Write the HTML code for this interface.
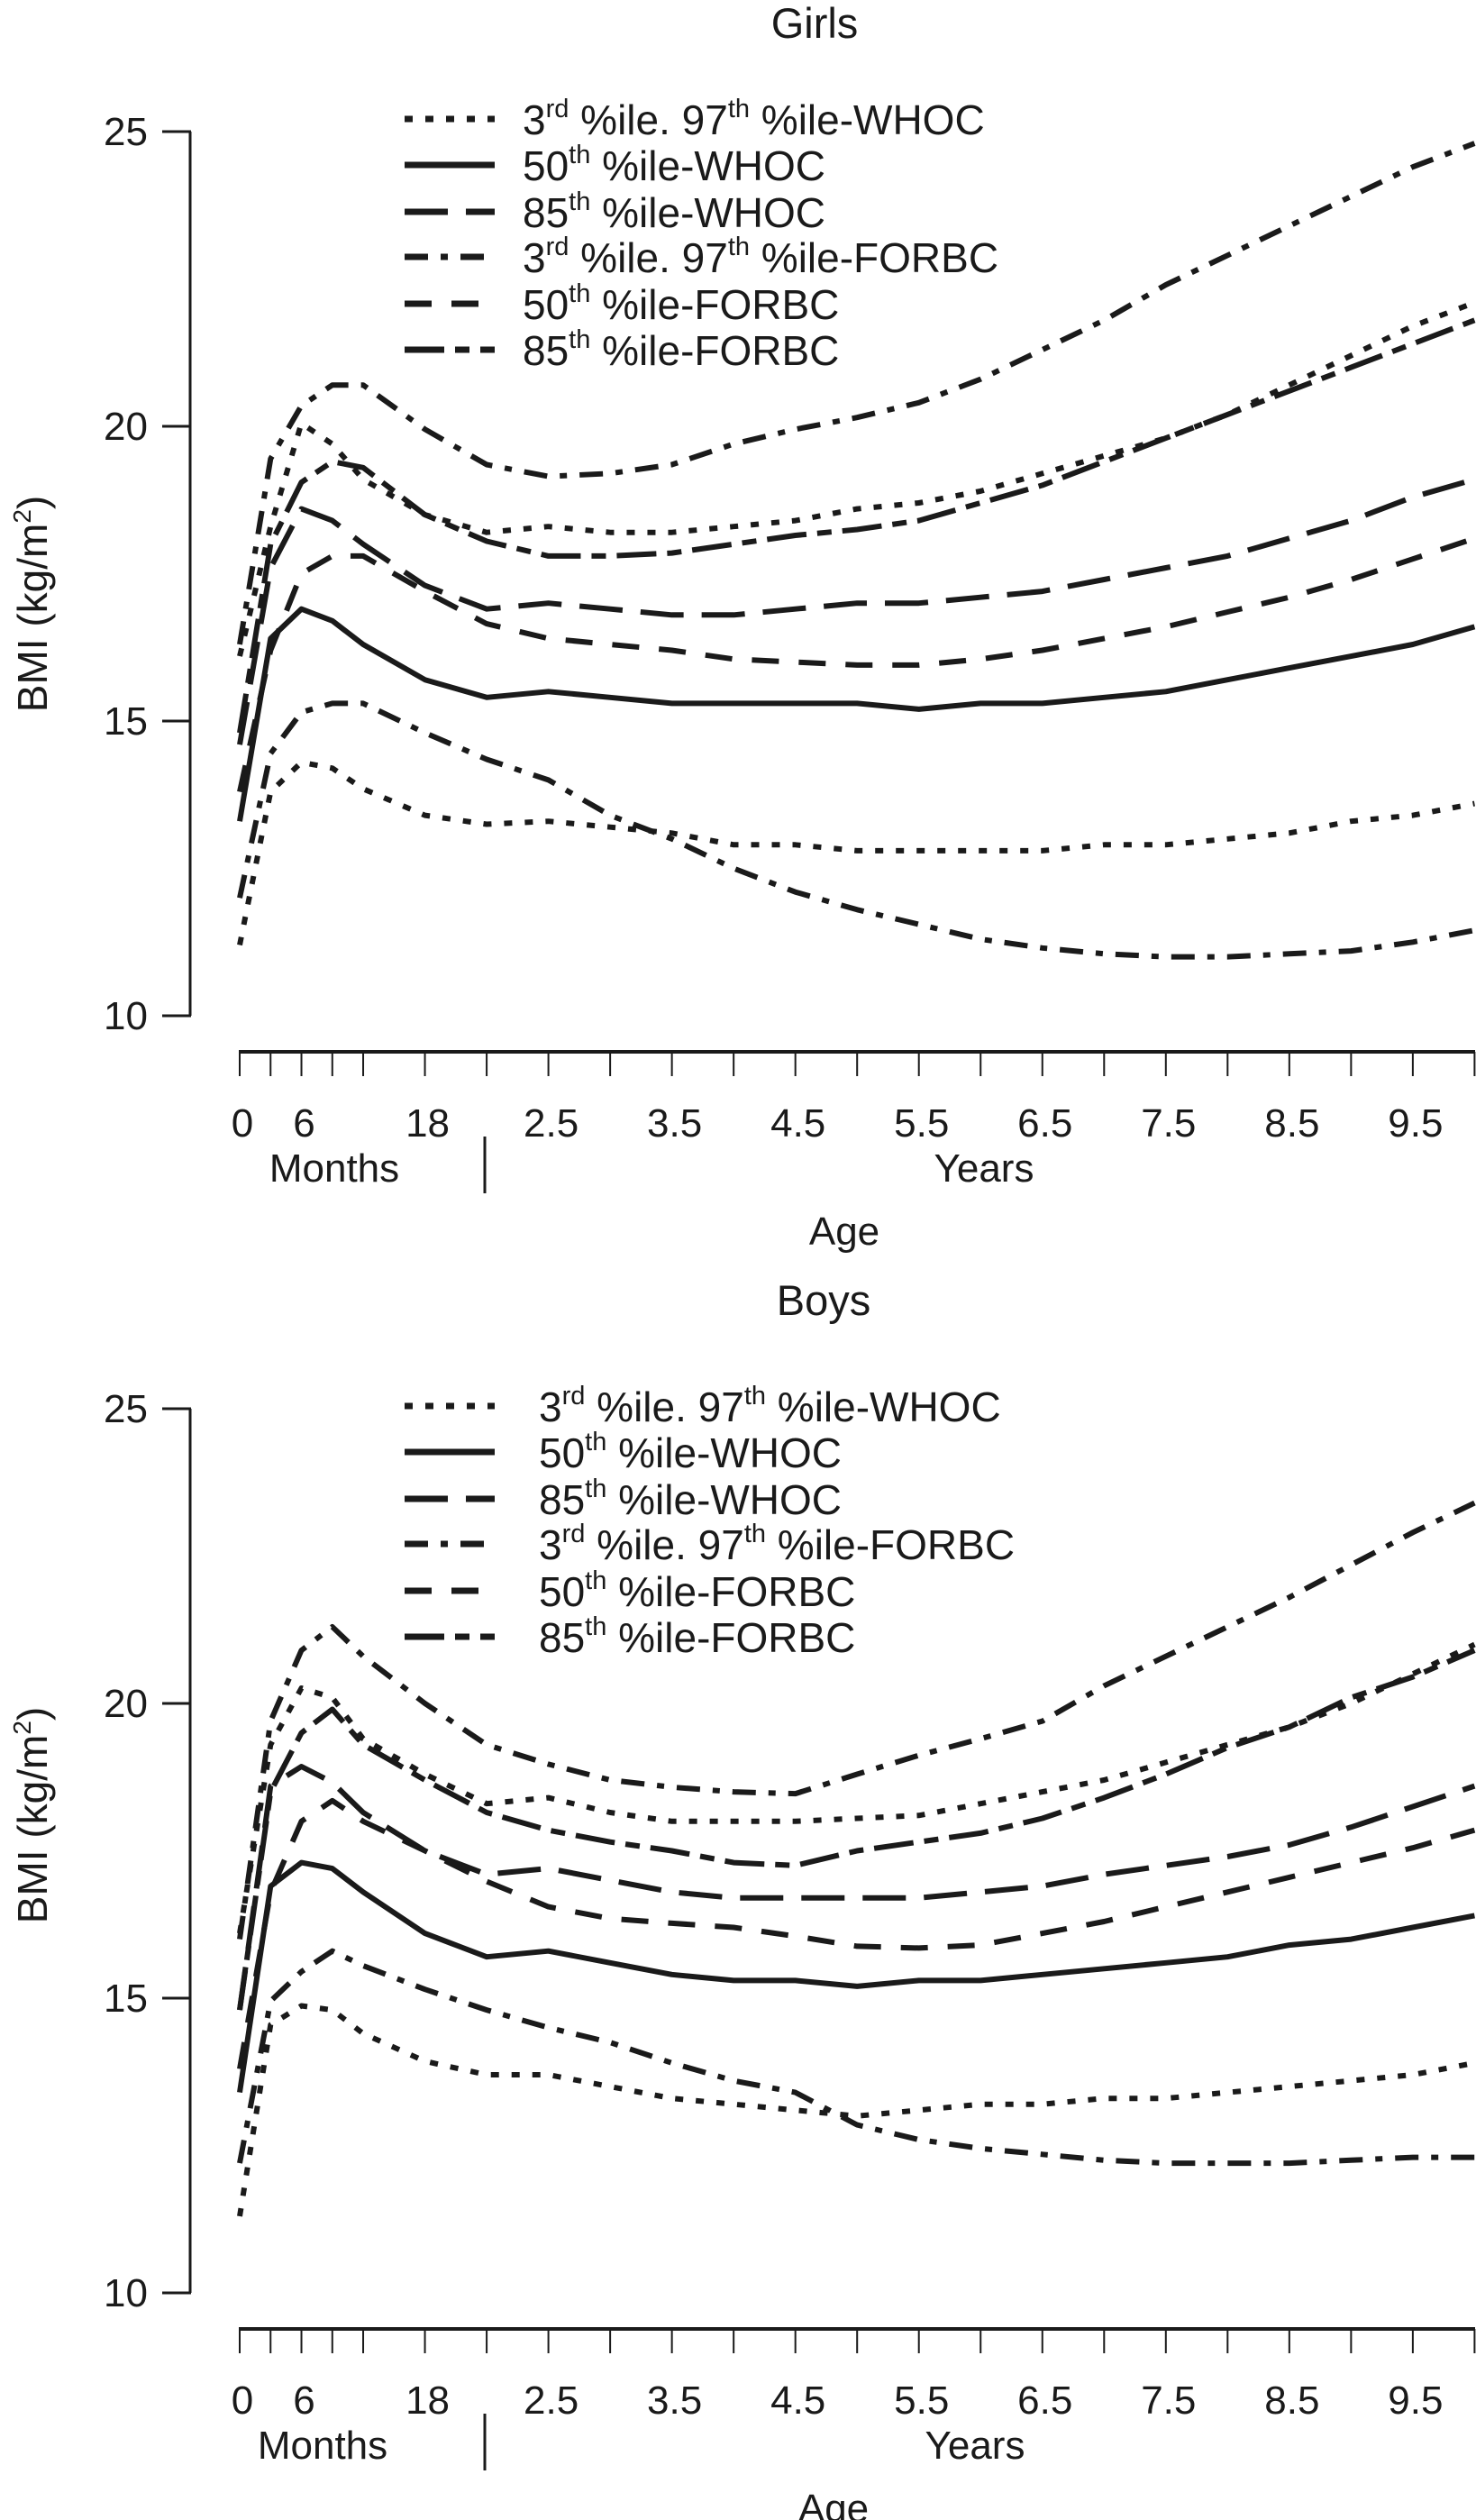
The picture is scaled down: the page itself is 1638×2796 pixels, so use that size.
<!DOCTYPE html>
<html><head><meta charset="utf-8"><style>
html,body{margin:0;padding:0;background:#fff;}
svg{display:block;}
text{font-family:"Liberation Sans Narrow","Liberation Sans",sans-serif;fill:#1a1a1a;}
</style></head>
<body>
<svg id="chart" width="1638" height="2796" viewBox="0 0 1638 2796" xmlns="http://www.w3.org/2000/svg"></svg>
<script>
const months = [0,3,6,9,12,18,24,30,36,42,48,54,60,66,72,78,84,90,96,102,108,114,120];
const yTicks = [10,15,20,25];
const xTickMonths = [0,3,6,9,12,18,24,30,36,42,48,54,60,66,72,78,84,90,96,102,108,114,120];
const xLabelMonths = [0,6,18,30,42,54,66,78,90,102,114];
const xLabels = ["0","6","18","2.5","3.5","4.5","5.5","6.5","7.5","8.5","9.5"];

const girlsWho3  = [11.2,13.8,14.3,14.2,13.85,13.4,13.25,13.3,13.2,13.1,12.9,12.9,12.8,12.8,12.8,12.8,12.9,12.9,13.0,13.1,13.3,13.4,13.6];
const girlsWho50 = [13.3,16.4,16.9,16.7,16.3,15.7,15.4,15.5,15.4,15.3,15.3,15.3,15.3,15.2,15.3,15.3,15.4,15.5,15.7,15.9,16.1,16.3,16.6];
const girlsWho85 = [14.6,17.6,18.6,18.4,18.0,17.3,16.9,17.0,16.9,16.8,16.8,16.9,17.0,17.0,17.1,17.2,17.4,17.6,17.8,18.1,18.4,18.8,19.1];
const girlsWho97 = [16.1,18.3,20.05,19.7,19.1,18.5,18.2,18.3,18.2,18.2,18.3,18.4,18.6,18.7,18.9,19.2,19.5,19.8,20.2,20.7,21.2,21.7,22.1];
const girlsFor3  = [12.0,14.45,15.15,15.3,15.3,14.8,14.35,14.0,13.4,13.0,12.5,12.1,11.8,11.55,11.3,11.15,11.05,11.0,11.0,11.05,11.1,11.25,11.45];
const girlsFor50 = [13.8,16.2,17.5,17.8,17.8,17.2,16.65,16.4,16.3,16.2,16.05,16.0,15.95,15.95,16.05,16.2,16.4,16.6,16.85,17.1,17.4,17.75,18.1];
const girlsFor85 = [14.8,18.0,19.05,19.4,19.3,18.5,18.05,17.8,17.8,17.85,18.0,18.15,18.25,18.4,18.7,19.0,19.4,19.8,20.2,20.6,21.0,21.4,21.8];
const girlsFor97 = [16.3,19.45,20.35,20.7,20.7,19.95,19.35,19.15,19.2,19.35,19.7,19.95,20.15,20.4,20.8,21.3,21.8,22.4,22.9,23.4,23.9,24.4,24.8];

const boysWho3  = [11.3,14.55,14.87,14.8,14.4,13.93,13.7,13.7,13.5,13.3,13.2,13.1,13.0,13.1,13.2,13.2,13.3,13.3,13.4,13.5,13.6,13.7,13.9];
const boysWho50 = [13.4,16.9,17.3,17.2,16.8,16.1,15.7,15.8,15.6,15.4,15.3,15.3,15.2,15.3,15.3,15.4,15.5,15.6,15.7,15.9,16.0,16.2,16.4];
const boysWho85 = [14.8,18.6,18.93,18.66,18.15,17.5,17.1,17.2,17.0,16.8,16.7,16.7,16.7,16.7,16.8,16.9,17.1,17.25,17.4,17.6,17.9,18.25,18.6];
const boysWho97 = [16.1,19.3,20.26,20.1,19.4,18.8,18.3,18.4,18.15,18.0,18.0,18.0,18.05,18.1,18.3,18.5,18.7,19.0,19.3,19.6,20.0,20.5,21.0];
const boysFor3  = [12.2,14.95,15.45,15.8,15.55,15.15,14.8,14.5,14.25,13.9,13.6,13.4,12.85,12.6,12.45,12.35,12.25,12.2,12.2,12.2,12.25,12.3,12.3];
const boysFor50 = [13.8,16.8,18.0,18.35,18.0,17.5,16.98,16.55,16.35,16.27,16.2,16.05,15.88,15.85,15.9,16.1,16.3,16.55,16.8,17.05,17.3,17.55,17.85];
const boysFor85 = [14.8,18.5,19.5,19.9,19.3,18.7,18.15,17.85,17.65,17.5,17.3,17.25,17.5,17.65,17.8,18.05,18.4,18.8,19.25,19.6,20.1,20.45,20.9];
const boysFor97 = [16.0,19.7,20.9,21.3,20.8,20.0,19.3,18.97,18.7,18.58,18.5,18.47,18.8,19.12,19.4,19.7,20.3,20.8,21.3,21.8,22.35,22.9,23.4];

const NS = "http://www.w3.org/2000/svg";
const svg = document.getElementById('chart');
function mk(tag, attrs, parent){ const e=document.createElementNS(NS,tag); for(const k in attrs) e.setAttribute(k,attrs[k]); (parent||svg).appendChild(e); return e; }

const STYLES = {
  dot:   "9 14",
  solid: "none",
  longdash: "48 20",
  dashdot: "26 14 8 14",
  shortdash: "30 22",
  longshort: "44 12 16 12"
};
const xOf = m => 266 + m*11.42;

function panel(off, title, titleX, legendTextX, yTitleCenter, monthsX, yearsX, ageX, series){
  const g = mk('g',{});
  
  
  const yOf = v => off + 146 + (25 - v)*65.4;

  const t = mk('text',{x:titleX,y:off+42,'font-size':47,'text-anchor':'middle'},g);
  t.textContent = title;
  
  

  const ya = mk('line',{x1:211,y1:yOf(25),x2:211,y2:yOf(10),stroke:'#1a1a1a','stroke-width':3},g);
  
  
  yTicks.forEach(v=>{
    const tk = mk('line',{x1:180,y1:yOf(v),x2:212,y2:yOf(v),stroke:'#1a1a1a','stroke-width':3},g);
    
    
    const tl = mk('text',{x:164,y:yOf(v)+15,'font-size':44,'text-anchor':'end'},g);
    tl.textContent = v;
    
    
  });
  const yt = mk('text',{x:0,y:0,'font-size':46,'text-anchor':'middle',transform:`translate(52,${yTitleCenter}) rotate(-90)`},g);
  yt.innerHTML = 'BMI (kg/m<tspan font-size="28" dy="-18">2</tspan><tspan dy="18">)</tspan>';
  
  

  const axY = yOf(10)+40;
  const xa = mk('line',{x1:265,y1:axY,x2:1637,y2:axY,stroke:'#1a1a1a','stroke-width':4},g);
  
  
  xTickMonths.forEach(m=>{
    const tk = mk('line',{x1:xOf(m),y1:axY,x2:xOf(m),y2:axY+27,stroke:'#1a1a1a','stroke-width':2},g);
    
    
  });
  xLabelMonths.forEach((m,i)=>{
    const tl = mk('text',{x:xOf(m)+3,y:axY+94,'font-size':44,'text-anchor':'middle'},g);
    tl.textContent = xLabels[i];
    
    
  });
  const sep = mk('line',{x1:538,y1:axY+94,x2:538,y2:axY+157,stroke:'#1a1a1a','stroke-width':3},g);
  
  
  const mt = mk('text',{x:monthsX,y:axY+144,'font-size':44,'text-anchor':'middle'},g);
  mt.textContent='Months';
  
  
  const yr = mk('text',{x:yearsX,y:axY+144,'font-size':44,'text-anchor':'middle'},g);
  yr.textContent='Years';
  
  
  const ag = mk('text',{x:ageX,y:axY+214,'font-size':44,'text-anchor':'middle'},g);
  ag.textContent='Age';
  
  

  series.forEach(s=>{
    s.data.forEach((vals,k)=>{
      const d = months.map((m,i)=>(i?'L':'M')+xOf(m).toFixed(1)+','+yOf(vals[i]).toFixed(1)).join(' ');
      const p = mk('path',{d:d,fill:'none',stroke:'#1a1a1a','stroke-width':6,'stroke-linejoin':'round'},g);
      if(STYLES[s.style]!=='none') p.setAttribute('stroke-dasharray',STYLES[s.style]);
      
      
    });
  });

  const rows = [132,183,235,285,337,388];
  series.forEach((s,i)=>{
    const ry = off + rows[i] + (off?11:0);
    const lg = mk('g',{},g);
    
    
    const ln = mk('line',{x1:449,y1:ry,x2:549,y2:ry,stroke:'#1a1a1a','stroke-width':7},lg);
    if(STYLES[s.style]!=='none') ln.setAttribute('stroke-dasharray',STYLES[s.style]);
    const tx = mk('text',{x:legendTextX,y:ry+17,'font-size':46},lg);
    tx.innerHTML = s.label;
  });
}

const sup = t => `<tspan font-size="29" dy="-19">${t}</tspan><tspan dy="19"> </tspan>`;
const labels = [
  `3${sup('rd')}%ile. 97${sup('th')}%ile-WHOC`,
  `50${sup('th')}%ile-WHOC`,
  `85${sup('th')}%ile-WHOC`,
  `3${sup('rd')}%ile. 97${sup('th')}%ile-FORBC`,
  `50${sup('th')}%ile-FORBC`,
  `85${sup('th')}%ile-FORBC`
];

panel(0,'Girls',904,580,670,371,1092,937,[
  {name:'girls-whoc',style:'dot',data:[girlsWho3,girlsWho97],label:labels[0]},
  {name:'girls-whoc-50th',style:'solid',data:[girlsWho50],label:labels[1]},
  {name:'girls-whoc-85th',style:'longdash',data:[girlsWho85],label:labels[2]},
  {name:'girls-forbc',style:'dashdot',data:[girlsFor3,girlsFor97],label:labels[3]},
  {name:'girls-forbc-50th',style:'shortdash',data:[girlsFor50],label:labels[4]},
  {name:'girls-forbc-85th',style:'longshort',data:[girlsFor85],label:labels[5]}
]);
panel(1417,'Boys',914,598,2014,358,1082,925,[
  {name:'boys-whoc',style:'dot',data:[boysWho3,boysWho97],label:labels[0]},
  {name:'boys-whoc-50th',style:'solid',data:[boysWho50],label:labels[1]},
  {name:'boys-whoc-85th',style:'longdash',data:[boysWho85],label:labels[2]},
  {name:'boys-forbc',style:'dashdot',data:[boysFor3,boysFor97],label:labels[3]},
  {name:'boys-forbc-50th',style:'shortdash',data:[boysFor50],label:labels[4]},
  {name:'boys-forbc-85th',style:'longshort',data:[boysFor85],label:labels[5]}
]);
</script>
</body></html>
